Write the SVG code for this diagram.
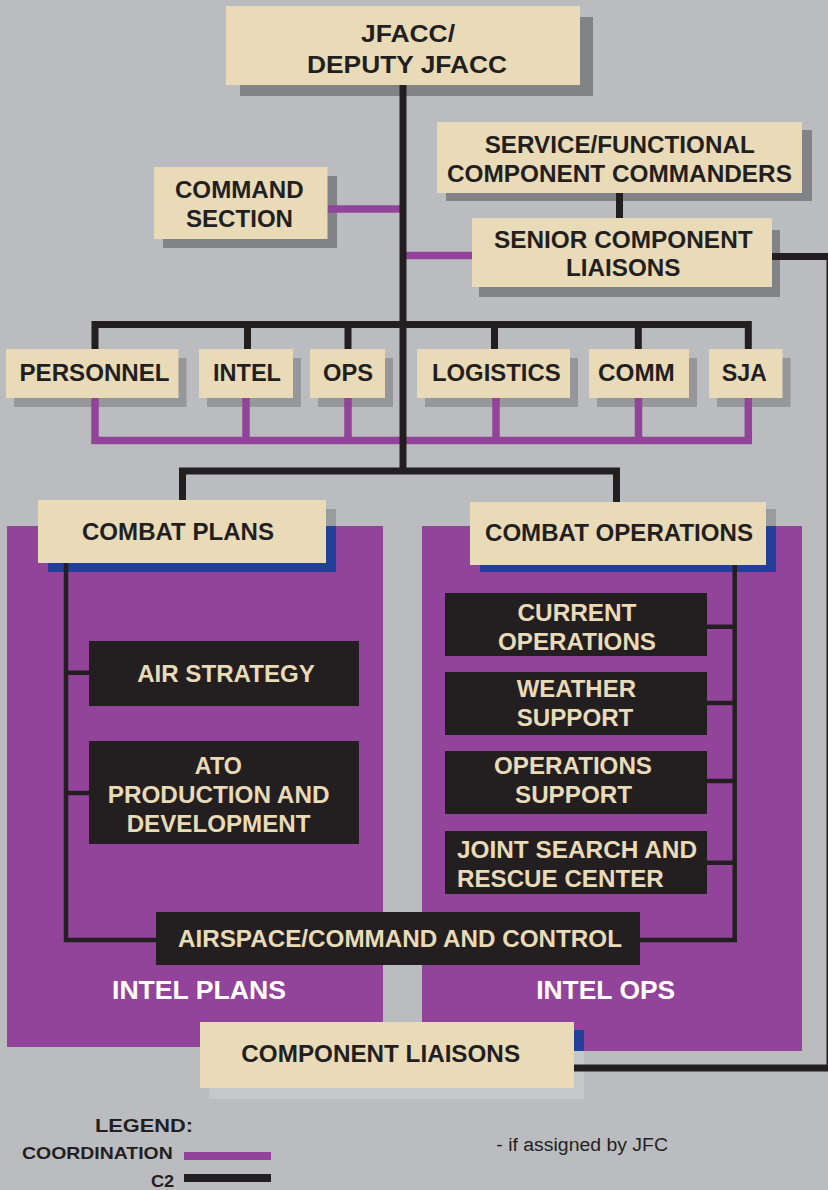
<svg xmlns="http://www.w3.org/2000/svg" width="828" height="1190" viewBox="0 0 828 1190">
<style>
.bg{fill:#bbbcc0}
.panel{fill:#92449a}
.sh1{fill:#828387}
.sh2{fill:#96979a}
.sh3{fill:#9a9b9d}
.sh4{fill:#c6c7c9}
.blue{fill:#22409a}
.box{fill:#e9dbb8}
.dbox{fill:#231f20}
.c2{fill:none;stroke:#231f20;stroke-width:7;stroke-linejoin:miter}
.c2t{fill:none;stroke:#231f20;stroke-width:4.5;stroke-linejoin:miter}
.co{fill:none;stroke:#92449a;stroke-width:7.5;stroke-linejoin:miter}
text{font-family:"Liberation Sans",Arial,sans-serif;font-weight:bold}
.t{fill:#231f20;font-size:23px;text-anchor:middle}
.tl{fill:#e9dbb8;font-size:23px;text-anchor:middle}
.tw{fill:#ffffff;font-size:25px;text-anchor:middle}
</style>
<rect class="bg" x="0" y="0" width="828" height="1190"/>

<g id="panels">
<rect class="panel" x="7" y="526" width="376" height="521"/>
<rect class="panel" x="422" y="526" width="380" height="525"/>
<text class="tw" x="199" y="999.3" textLength="174" lengthAdjust="spacingAndGlyphs">INTEL PLANS</text>
<text class="tw" x="605.7" y="999" textLength="139" lengthAdjust="spacingAndGlyphs">INTEL OPS</text>
</g>

<g id="shadows">
<rect class="sh1" x="240" y="17" width="353" height="79"/>
<rect class="sh1" x="446" y="130" width="366" height="71"/>
<rect class="sh1" x="163" y="176" width="174" height="72"/>
<rect class="sh1" x="479" y="230" width="301" height="67"/>
<rect class="sh2" x="14" y="358" width="172.5" height="49"/>
<rect class="sh2" x="207" y="358" width="94" height="49"/>
<rect class="sh2" x="318" y="358" width="75" height="49"/>
<rect class="sh2" x="425" y="358" width="153" height="49"/>
<rect class="sh2" x="597" y="358" width="100" height="49"/>
<rect class="sh2" x="717" y="358" width="73.5" height="49"/>
<rect class="sh3" x="48" y="509" width="288" height="17"/>
<rect class="blue" x="48" y="526" width="288" height="46"/>
<rect class="sh3" x="480" y="509" width="296" height="17"/>
<rect class="blue" x="480" y="526" width="296" height="46"/>
<rect class="sh4" x="209" y="1030" width="375" height="69"/>
<rect class="blue" x="574" y="1030" width="10" height="21"/>
</g>

<g id="connectors">
<path class="co" d="M327.5,209 H403"/>
<path class="co" d="M403,255.5 H472"/>
<path class="co" d="M95,398 V440.5 H748.3 V398 M246,398 V440.5 M348,398 V440.5 M496,398 V440.5 M638.5,398 V440.5"/>
<path class="c2" d="M403,84 V471"/>
<path class="c2" d="M95,349 V324.5 H748.3 V349 M247.5,324.5 V349 M348,324.5 V349 M494.5,324.5 V349 M638.3,324.5 V349"/>
<path class="c2" d="M619.5,192 V218"/>
<path class="c2" d="M772,256.5 H830 V1068 H574"/>
<path class="c2" d="M182.5,500 V471 H616.5 V502"/>
<path class="c2t" d="M66,563 V940 H156 M66,672.7 H89 M66,793 H89"/>
<path class="c2t" d="M734.7,565 V940 H640 M707,626.7 H734.7 M707,703 H734.7 M707,781 H734.7 M707,862.7 H734.7"/>
</g>

<g id="jfacc">
<rect class="box" x="226" y="6" width="354" height="79"/>
<text class="t" x="408" y="41.7" textLength="94" lengthAdjust="spacingAndGlyphs">JFACC/</text>
<text class="t" x="407" y="73.3" textLength="200" lengthAdjust="spacingAndGlyphs">DEPUTY JFACC</text>
</g>
<g id="service">
<rect class="box" x="437" y="122" width="365" height="71"/>
<text class="t" x="619.7" y="152.7" textLength="270" lengthAdjust="spacingAndGlyphs">SERVICE/FUNCTIONAL</text>
<text class="t" x="619.4" y="181.7" textLength="345" lengthAdjust="spacingAndGlyphs">COMPONENT COMMANDERS</text>
</g>
<g id="command">
<rect class="box" x="154" y="167" width="173.5" height="72"/>
<text class="t" x="239.3" y="197.7" textLength="128.7" lengthAdjust="spacingAndGlyphs">COMMAND</text>
<text class="t" x="239.5" y="226.7" textLength="107" lengthAdjust="spacingAndGlyphs">SECTION</text>
</g>
<g id="senior">
<rect class="box" x="472" y="218" width="300" height="69"/>
<text class="t" x="623.3" y="247.7" textLength="258.7" lengthAdjust="spacingAndGlyphs">SENIOR COMPONENT</text>
<text class="t" x="623.2" y="276" textLength="114.5" lengthAdjust="spacingAndGlyphs">LIAISONS</text>
</g>

<g id="personnel">
<rect class="box" x="6" y="349" width="172.5" height="49"/>
<text class="t" x="94.5" y="381" textLength="150" lengthAdjust="spacingAndGlyphs">PERSONNEL</text>
</g>
<g id="intel">
<rect class="box" x="199" y="349" width="94" height="49"/>
<text class="t" x="247" y="381" textLength="68" lengthAdjust="spacingAndGlyphs">INTEL</text>
</g>
<g id="ops">
<rect class="box" x="310" y="349" width="75" height="49"/>
<text class="t" x="348" y="381" textLength="50" lengthAdjust="spacingAndGlyphs">OPS</text>
</g>
<g id="logistics">
<rect class="box" x="417" y="349" width="153" height="49"/>
<text class="t" x="496.3" y="381" textLength="128.7" lengthAdjust="spacingAndGlyphs">LOGISTICS</text>
</g>
<g id="comm">
<rect class="box" x="589" y="349" width="100" height="49"/>
<text class="t" x="636.4" y="381" textLength="76.8" lengthAdjust="spacingAndGlyphs">COMM</text>
</g>
<g id="sja">
<rect class="box" x="709" y="349" width="73.5" height="49"/>
<text class="t" x="744.3" y="381" textLength="45.3" lengthAdjust="spacingAndGlyphs">SJA</text>
</g>

<g id="combat-plans">
<rect class="box" x="38" y="500" width="288" height="63"/>
<text class="t" x="178" y="540" textLength="192" lengthAdjust="spacingAndGlyphs">COMBAT PLANS</text>
</g>
<g id="combat-operations">
<rect class="box" x="470" y="502" width="296" height="63"/>
<text class="t" x="619" y="541" textLength="268" lengthAdjust="spacingAndGlyphs">COMBAT OPERATIONS</text>
</g>

<g id="air-strategy">
<rect class="dbox" x="89" y="641" width="270" height="65"/>
<text class="tl" x="226" y="681.7" textLength="177.7" lengthAdjust="spacingAndGlyphs">AIR STRATEGY</text>
</g>
<g id="ato">
<rect class="dbox" x="89" y="741" width="270" height="103"/>
<text class="tl" x="218.3" y="773.7" textLength="47" lengthAdjust="spacingAndGlyphs">ATO</text>
<text class="tl" x="218.6" y="802.7" textLength="221.8" lengthAdjust="spacingAndGlyphs">PRODUCTION AND</text>
<text class="tl" x="218.6" y="831.7" textLength="183.8" lengthAdjust="spacingAndGlyphs">DEVELOPMENT</text>
</g>

<g id="current-operations">
<rect class="dbox" x="445" y="593" width="262" height="63"/>
<text class="tl" x="577" y="621" textLength="119" lengthAdjust="spacingAndGlyphs">CURRENT</text>
<text class="tl" x="577" y="650" textLength="158" lengthAdjust="spacingAndGlyphs">OPERATIONS</text>
</g>
<g id="weather-support">
<rect class="dbox" x="445" y="672" width="262" height="63"/>
<text class="tl" x="576.3" y="697" textLength="119.3" lengthAdjust="spacingAndGlyphs">WEATHER</text>
<text class="tl" x="575" y="725.7" textLength="116.7" lengthAdjust="spacingAndGlyphs">SUPPORT</text>
</g>
<g id="operations-support">
<rect class="dbox" x="445" y="751" width="262" height="63"/>
<text class="tl" x="573" y="774.3" textLength="158" lengthAdjust="spacingAndGlyphs">OPERATIONS</text>
<text class="tl" x="573.5" y="803.3" textLength="117" lengthAdjust="spacingAndGlyphs">SUPPORT</text>
</g>
<g id="jsrc">
<rect class="dbox" x="445" y="831" width="262" height="63"/>
<text class="tl" x="457" y="858.3" style="text-anchor:start" textLength="240" lengthAdjust="spacingAndGlyphs">JOINT SEARCH AND</text>
<text class="tl" x="457" y="887.3" style="text-anchor:start" textLength="206.7" lengthAdjust="spacingAndGlyphs">RESCUE CENTER</text>
</g>
<g id="airspace">
<rect class="dbox" x="156" y="912" width="484" height="53"/>
<text class="tl" x="400" y="946.7" textLength="444" lengthAdjust="spacingAndGlyphs">AIRSPACE/COMMAND AND CONTROL</text>
</g>
<g id="component-liaisons">
<rect class="box" x="200" y="1022" width="374" height="66"/>
<text class="t" x="380.7" y="1062.3" textLength="278.7" lengthAdjust="spacingAndGlyphs">COMPONENT LIAISONS</text>
</g>

<g id="legend">
<text x="193" y="1132.3" style="fill:#231f20;font-size:19px;text-anchor:end" textLength="98" lengthAdjust="spacingAndGlyphs">LEGEND:</text>
<text x="172.7" y="1159.3" style="fill:#231f20;font-size:17px;text-anchor:end" textLength="150.7" lengthAdjust="spacingAndGlyphs">COORDINATION</text>
<rect x="184" y="1152" width="87" height="8" fill="#92449a"/>
<text x="174.2" y="1186.7" style="fill:#231f20;font-size:17px;text-anchor:end" textLength="23.2" lengthAdjust="spacingAndGlyphs">C2</text>
<rect x="184" y="1174" width="87" height="8" fill="#231f20"/>
<text x="496.3" y="1150.7" style="fill:#231f20;font-size:18px;font-weight:normal" textLength="171.7" lengthAdjust="spacingAndGlyphs">- if assigned by JFC</text>
</g>
</svg>
